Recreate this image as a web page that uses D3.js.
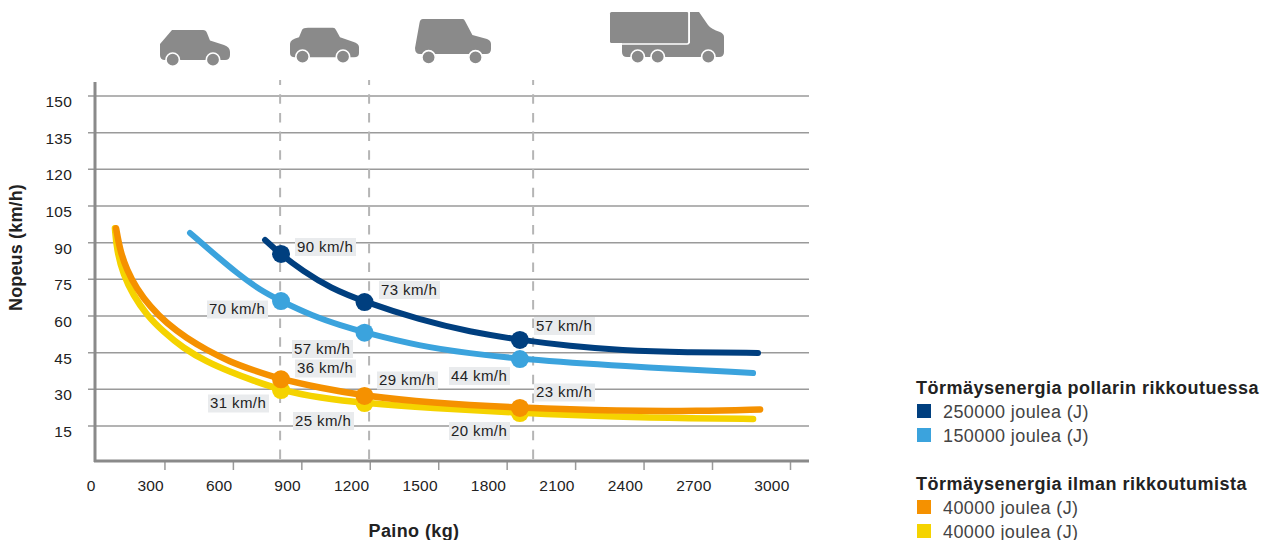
<!DOCTYPE html>
<html lang="fi">
<head>
<meta charset="utf-8">
<script src="https://cdn.jsdelivr.net/npm/d3@7/dist/d3.min.js"></script>
<style>
html,body{margin:0;padding:0;background:#fff;overflow:hidden}
svg{display:block}
text{font-family:"Liberation Sans",Arial,sans-serif;fill:#222}
</style>
</head>
<body>
<svg id="c" width="1269" height="540"></svg>
<script>
const yTicks = [15,30,45,60,75,90,105,120,135,150];
const xTicks = [0,300,600,900,1200,1500,1800,2100,2400,2700,3000];
const dashedKg = [807,1197,1916];

const darkKg = [741,807,907,1026,1179,1420,1639,1858,2078,2297,2591,2877];
const darkV  = [91.1,85.4,78.4,71.5,65.7,58.4,53.5,50.2,47.7,46,45.1,44.9];
const lightKg = [412,513,617,719,807,951,1069,1179,1420,1639,1858,2297,2858];
const lightV  = [94,85.8,77.6,70.6,66.3,60,56.3,53.2,47.7,44.7,42.4,39.5,36.7];
const orangeKg = [88,105,135,178,237,310,398,485,587,688,811,982,1177,1464,1858,2297,2647,2885];
const orangeV  = [95.9,87,78.8,71.3,63.8,57,50.9,46.1,41.3,37.9,34.1,30.6,27.3,24.5,22.4,21.1,21.1,21.8];
const yellowKg = [83,91,120,163,222,295,383,485,587,688,811,982,1177,1464,1858,2297,2605,2858];
const yellowV  = [95.9,87,76.8,68.6,60.4,53.6,46.8,41.3,37.2,33.6,29.7,26.5,24.4,22.4,20.3,18.7,18.2,17.9];

const markerKg = [811,1177,1858];
const darkMarkers = [85.4,65.7,50.2];
const lightMarkers = [66.1,53.2,42.4];
const orangeMarkers = [34.1,27.3,22.4];
const yellowMarkers = [29.7,24.4,20.3];

const darkLabels = ["90 km/h","73 km/h","57 km/h"];
const lightLabels = ["70 km/h","57 km/h","44 km/h"];
const orangeLabels = ["36 km/h","29 km/h","23 km/h"];
const yellowLabels = ["31 km/h","25 km/h","20 km/h"];

const legendGroups = ["Törmäysenergia pollarin rikkoutuessa","Törmäysenergia ilman rikkoutumista"];
const legendItems = ["250000 joulea (J)","150000 joulea (J)","40000 joulea (J)","40000 joulea (J)"];

const DARK="#003f7f", LIGHT="#3ba3dd", ORANGE="#f59100", YELLOW="#f5d300", GREY="#8a8a8a", GRID="#9a9a9a";

const svg = d3.select("#c");
const x = d3.scaleLinear().domain([0,2700,3000]).range([96,712,790]);
const y = d3.scaleLinear().domain([0,150]).range([462.7,96]);

// gridlines + y axis
const yAxis = d3.axisLeft(y).tickValues(yTicks).tickSize(0).tickPadding(0);
const gy = svg.append("g");
yTicks.forEach(t=>{
  gy.append("line").attr("x1",88).attr("x2",809).attr("y1",y(t)).attr("y2",y(t))
    .attr("stroke",GRID).attr("stroke-width",1.5);
});
const yA = svg.append("g").attr("transform","translate(72,0)").call(yAxis);
yA.select(".domain").remove();
yA.selectAll("text").attr("dy",null).attr("y",6.5).attr("dominant-baseline","middle")
  .style("font-size","15.5px").style("letter-spacing","0.2px").attr("fill","#222");

// dashed lines
svg.append("g").selectAll("line").data(dashedKg).join("line")
  .attr("x1",d=>x(d)).attr("x2",d=>x(d)).attr("y1",80).attr("y2",461)
  .attr("stroke","#b5b5b5").attr("stroke-width",2).attr("stroke-dasharray","9.5 9.2").attr("stroke-dashoffset",4.5);

// axis lines and x axis
const xAxis = d3.axisBottom(x).tickValues(xTicks).tickSize(9).tickPadding(10).tickFormat(d3.format("d"));
const xA = svg.append("g").attr("transform","translate(0,461)").call(xAxis);
xA.select(".domain").remove();
xA.selectAll(".tick").filter(d=>d===0).select("line").remove();
xA.selectAll("line").attr("stroke",GRID).attr("stroke-width",1.5);
xA.selectAll("text").attr("text-anchor","end").attr("fill","#222").attr("x",-1)
  .style("font-size","15.5px").style("letter-spacing","0.2px");
svg.append("line").attr("x1",95).attr("x2",95).attr("y1",82).attr("y2",462).attr("stroke",GREY).attr("stroke-width",3);
svg.append("line").attr("x1",94).attr("x2",809).attr("y1",461).attr("y2",461).attr("stroke",GREY).attr("stroke-width",3);

// curves
const line = d3.line().x(d=>x(d[0])).y(d=>y(d[1])).curve(d3.curveBasis);
const series = [
  {kg:yellowKg,v:yellowV,m:yellowMarkers,c:YELLOW,w:6.5},
  {kg:orangeKg,v:orangeV,m:orangeMarkers,c:ORANGE,w:6.5},
  {kg:lightKg,v:lightV,m:lightMarkers,c:LIGHT,w:6},
  {kg:darkKg,v:darkV,m:darkMarkers,c:DARK,w:6}
];
series.forEach(s=>{
  svg.append("path").attr("d",line(d3.zip(s.kg,s.v))).attr("fill","none")
    .attr("stroke",s.c).attr("stroke-width",s.w).attr("stroke-linecap","round");
  svg.append("g").selectAll("circle").data(d3.zip(markerKg,s.m)).join("circle")
    .attr("cx",d=>x(d[0])).attr("cy",d=>y(d[1])).attr("r",9).attr("fill",s.c);
});

// value labels: box left edge and box centre in page pixels
const labelLayout = [
  [darkLabels,[[295,247],[379,290],[534,326]]],
  [lightLabels,[[207,309.5],[292,349],[449,376]]],
  [orangeLabels,[[295,368.5],[377,380.5],[534,392.5]]],
  [yellowLabels,[[208,403.5],[293,421],[449,431]]]
];
labelLayout.forEach(([texts,pos])=>{
  texts.forEach((t,i)=>{
    const g = svg.append("g").attr("transform",`translate(${pos[i][0]},${pos[i][1]})`);
    g.append("rect").attr("x",0).attr("y",-9).attr("width",61).attr("height",18).attr("fill","#e9ebed");
    g.append("text").attr("x",2).attr("y",4.8).text(t).style("font-size","15px").style("letter-spacing","0.4px");
  });
});

// axis titles
svg.append("text").attr("x",414).attr("y",536.5).attr("text-anchor","middle").text("Paino (kg)")
  .style("font-size","18px").style("font-weight","700").style("letter-spacing","0.4px");
svg.append("text").attr("transform","translate(21.5,247.5) rotate(-90)").attr("text-anchor","middle").text("Nopeus (km/h)")
  .style("font-size","18px").style("font-weight","700").style("letter-spacing","0.15px");

// legend
const leg = svg.append("g");
[[legendGroups[0],394],[legendGroups[1],490]].forEach(([t,b])=>{
  leg.append("text").attr("x",916).attr("y",b).text(t)
    .style("font-size","18px").style("font-weight","700").style("letter-spacing","0.5px");
});
[[legendItems[0],DARK,404],[legendItems[1],LIGHT,428],[legendItems[2],ORANGE,500],[legendItems[3],YELLOW,524]].forEach(([t,c,top])=>{
  leg.append("rect").attr("x",917).attr("y",top).attr("width",14).attr("height",14).attr("fill",c);
  leg.append("text").attr("x",943).attr("y",top+14).text(t)
    .style("font-size","18px").style("letter-spacing","0.4px").style("fill","#444");
});

// vehicle icons (decorative glyphs)
const icons = [
  {d:"M172 30H203Q206 30 207 33L210 40.5L224 45Q230 47 230 52V55Q230 60 225 60H165Q160 60 160 55V44Z",w:[[172.7,59.7],[213,59.7]]},
  {d:"M308 27.7H333Q335 27.7 336 30L340 37.3L353 41.7Q359 43.5 359 47V53Q359 57.3 354 57.3H295Q290 57.3 290 53V44Q290 39.5 299 37.3L302 30Q303 27.7 308 27.7Z",w:[[302.5,56.7],[343,56.7]]},
  {d:"M423 19H463Q464 19 465 21L472.4 35L487 39Q491 40.5 491 44V49Q491 54 486 54H420Q415 54 415 48L419.5 23Q420 19 423 19Z",w:[[428.6,57.3],[475.5,57.3]]},
  {d:"M690 12H699L708 25Q711 29 720 32Q724 34 724 37V52Q724 57 719 57H627Q622 57 622 52V43H690Z",w:[[637.7,56.7],[657.7,56.7],[708.3,56.7]]}
];
icons.forEach(ic=>{
  svg.append("path").attr("d",ic.d).attr("fill",GREY);
  svg.append("g").selectAll("circle").data(ic.w).join("circle")
    .attr("cx",d=>d[0]).attr("cy",d=>d[1]).attr("r",6.7).attr("fill",GREY).attr("stroke","#fff").attr("stroke-width",1.6);
});
svg.append("rect").attr("x",610).attr("y",12).attr("width",78.5).attr("height",31).attr("rx",1.5)
  .attr("fill",GREY);
svg.append("path").attr("d","M689 12V42Q689 44 687 44H622").attr("fill","none").attr("stroke","#fff").attr("stroke-width",1.5);
</script>
</body>
</html>
